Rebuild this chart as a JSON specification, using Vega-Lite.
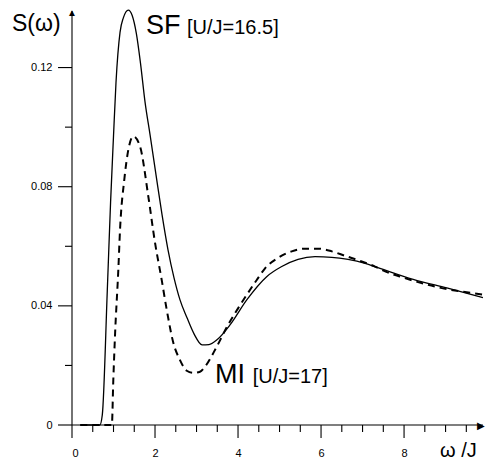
{
  "$schema": "https://vega.github.io/schema/vega-lite/v6.json",
  "width": 413,
  "height": 417,
  "autosize": {"type": "none"},
  "padding": {"left": 72, "top": 8, "right": 0, "bottom": 35},
  "background": "white",
  "config": {
    "view": {"stroke": null},
    "axis": {"grid": false}
  },
  "datasets": {
    "sf": [
      {"w": 0.2, "s": 0},
      {"w": 0.67, "s": 0},
      {"w": 0.73, "s": 0.0034},
      {"w": 0.85, "s": 0.045},
      {"w": 0.93, "s": 0.075},
      {"w": 1.0, "s": 0.097},
      {"w": 1.06, "s": 0.115},
      {"w": 1.157, "s": 0.1318},
      {"w": 1.237, "s": 0.1367},
      {"w": 1.357, "s": 0.1393},
      {"w": 1.45, "s": 0.1375},
      {"w": 1.55, "s": 0.1315},
      {"w": 1.65, "s": 0.1215},
      {"w": 1.759, "s": 0.1085},
      {"w": 1.88, "s": 0.0975},
      {"w": 2.024, "s": 0.084},
      {"w": 2.169, "s": 0.0706},
      {"w": 2.313, "s": 0.0588},
      {"w": 2.458, "s": 0.0494},
      {"w": 2.602, "s": 0.042},
      {"w": 2.771, "s": 0.036},
      {"w": 2.94, "s": 0.0306},
      {"w": 3.133, "s": 0.0269},
      {"w": 3.3, "s": 0.027},
      {"w": 3.5, "s": 0.0287},
      {"w": 3.807, "s": 0.0336},
      {"w": 4.21, "s": 0.042},
      {"w": 4.69, "s": 0.0498},
      {"w": 5.053, "s": 0.0532},
      {"w": 5.446, "s": 0.0556},
      {"w": 5.855, "s": 0.0565},
      {"w": 6.258, "s": 0.0563},
      {"w": 6.65, "s": 0.0556},
      {"w": 7.06, "s": 0.0543},
      {"w": 7.42, "s": 0.0526},
      {"w": 8.22, "s": 0.0489},
      {"w": 9.03, "s": 0.046},
      {"w": 9.9, "s": 0.0428}
    ],
    "mi": [
      {"w": 0.2, "s": 0},
      {"w": 0.96, "s": 0},
      {"w": 0.995, "s": 0.015},
      {"w": 1.036, "s": 0.03},
      {"w": 1.116, "s": 0.0521},
      {"w": 1.157, "s": 0.0655},
      {"w": 1.26, "s": 0.0824},
      {"w": 1.357, "s": 0.0924},
      {"w": 1.477, "s": 0.0969},
      {"w": 1.639, "s": 0.0935},
      {"w": 1.839, "s": 0.0767},
      {"w": 2.0, "s": 0.0612},
      {"w": 2.161, "s": 0.0487},
      {"w": 2.282, "s": 0.0387},
      {"w": 2.441, "s": 0.0276},
      {"w": 2.602, "s": 0.0218},
      {"w": 2.764, "s": 0.0182},
      {"w": 2.916, "s": 0.0175},
      {"w": 3.084, "s": 0.0179},
      {"w": 3.2, "s": 0.0195},
      {"w": 3.487, "s": 0.0263},
      {"w": 3.759, "s": 0.0336},
      {"w": 4.048, "s": 0.0402},
      {"w": 4.451, "s": 0.0487},
      {"w": 4.651, "s": 0.0526},
      {"w": 4.964, "s": 0.0561},
      {"w": 5.294, "s": 0.0583},
      {"w": 5.614, "s": 0.0592},
      {"w": 5.928, "s": 0.0592},
      {"w": 6.258, "s": 0.0583},
      {"w": 6.578, "s": 0.0568},
      {"w": 6.98, "s": 0.0549},
      {"w": 7.3, "s": 0.0532},
      {"w": 7.49, "s": 0.0519},
      {"w": 8.0, "s": 0.0494},
      {"w": 8.8, "s": 0.0463},
      {"w": 9.9, "s": 0.0438}
    ],
    "axes": [
      {"id": "xaxis", "w": 0, "s": 0}, {"id": "xaxis", "w": 9.9, "s": 0},
      {"id": "yaxis", "w": 0, "s": 0}, {"id": "yaxis", "w": 0, "s": 0.139},
      {"id": "xt0", "w": 0, "s": 0}, {"id": "xt0", "w": 0, "s": -0.00437},
      {"id": "xt2", "w": 2, "s": 0}, {"id": "xt2", "w": 2, "s": -0.00437},
      {"id": "xt4", "w": 4, "s": 0}, {"id": "xt4", "w": 4, "s": -0.00437},
      {"id": "xt6", "w": 6, "s": 0}, {"id": "xt6", "w": 6, "s": -0.00437},
      {"id": "xt8", "w": 8, "s": 0}, {"id": "xt8", "w": 8, "s": -0.00437},
      {"id": "xm05", "w": 0.5, "s": 0}, {"id": "xm05", "w": 0.5, "s": -0.00235},
      {"id": "xm10", "w": 1, "s": 0}, {"id": "xm10", "w": 1, "s": -0.00235},
      {"id": "xm15", "w": 1.5, "s": 0}, {"id": "xm15", "w": 1.5, "s": -0.00235},
      {"id": "xm25", "w": 2.5, "s": 0}, {"id": "xm25", "w": 2.5, "s": -0.00235},
      {"id": "xm30", "w": 3, "s": 0}, {"id": "xm30", "w": 3, "s": -0.00235},
      {"id": "xm35", "w": 3.5, "s": 0}, {"id": "xm35", "w": 3.5, "s": -0.00235},
      {"id": "xm45", "w": 4.5, "s": 0}, {"id": "xm45", "w": 4.5, "s": -0.00235},
      {"id": "xm50", "w": 5, "s": 0}, {"id": "xm50", "w": 5, "s": -0.00235},
      {"id": "xm55", "w": 5.5, "s": 0}, {"id": "xm55", "w": 5.5, "s": -0.00235},
      {"id": "xm65", "w": 6.5, "s": 0}, {"id": "xm65", "w": 6.5, "s": -0.00235},
      {"id": "xm70", "w": 7, "s": 0}, {"id": "xm70", "w": 7, "s": -0.00235},
      {"id": "xm75", "w": 7.5, "s": 0}, {"id": "xm75", "w": 7.5, "s": -0.00235},
      {"id": "xm85", "w": 8.5, "s": 0}, {"id": "xm85", "w": 8.5, "s": -0.00235},
      {"id": "xm90", "w": 9, "s": 0}, {"id": "xm90", "w": 9, "s": -0.00235},
      {"id": "xm95", "w": 9.5, "s": 0}, {"id": "xm95", "w": 9.5, "s": -0.00235},
      {"id": "yt0", "w": 0, "s": 0}, {"id": "yt0", "w": -0.337, "s": 0},
      {"id": "yt4", "w": 0, "s": 0.04}, {"id": "yt4", "w": -0.337, "s": 0.04},
      {"id": "yt8", "w": 0, "s": 0.08}, {"id": "yt8", "w": -0.337, "s": 0.08},
      {"id": "yt12", "w": 0, "s": 0.12}, {"id": "yt12", "w": -0.337, "s": 0.12},
      {"id": "ym2", "w": 0, "s": 0.02}, {"id": "ym2", "w": -0.169, "s": 0.02},
      {"id": "ym6", "w": 0, "s": 0.06}, {"id": "ym6", "w": -0.169, "s": 0.06},
      {"id": "ym10", "w": 0, "s": 0.1}, {"id": "ym10", "w": -0.169, "s": 0.1}
    ]
  },
  "layer": [
    {
      "data": {"name": "axes"},
      "mark": {"type": "line", "color": "black", "strokeWidth": 1.1},
      "encoding": {
        "x": {
          "field": "w",
          "type": "quantitative",
          "title": null,
          "scale": {"domain": [0, 9.95], "nice": false, "zero": false},
          "axis": {
            "tickCount": 5,
            "domain": false,
            "ticks": true,
            "tickOpacity": 0,
            "tickSize": 13,
            "labelFontSize": 11,
            "labelColor": "black",
            "labelPadding": 9
          }
        },
        "y": {
          "field": "s",
          "type": "quantitative",
          "title": null,
          "scale": {"domain": [0, 0.14], "nice": false, "zero": false},
          "axis": {
            "values": [0, 0.04, 0.08, 0.12],
            "format": ".2~f",
            "domain": false,
            "ticks": true,
            "tickOpacity": 0,
            "tickSize": 14,
            "labelFontSize": 11,
            "labelColor": "black",
            "labelPadding": 6
          }
        },
        "detail": {"field": "id", "type": "nominal"}
      }
    },
    {
      "data": {"name": "sf"},
      "mark": {"type": "line", "color": "black", "strokeWidth": 1.3, "interpolate": "monotone"},
      "encoding": {
        "x": {"field": "w", "type": "quantitative"},
        "y": {"field": "s", "type": "quantitative"}
      }
    },
    {
      "data": {"name": "mi"},
      "mark": {"type": "line", "color": "black", "strokeWidth": 2, "strokeDash": [7, 5], "interpolate": "monotone"},
      "encoding": {
        "x": {"field": "w", "type": "quantitative"},
        "y": {"field": "s", "type": "quantitative"}
      }
    },
    {
      "data": {"values": [{}]},
      "mark": {"type": "text", "text": "▲", "fontSize": 10, "color": "black"},
      "encoding": {"x": {"datum": 0}, "y": {"datum": 0.1383}}
    },
    {
      "data": {"values": [{}]},
      "mark": {"type": "text", "text": "▶", "fontSize": 10, "color": "black"},
      "encoding": {"x": {"datum": 9.86}, "y": {"datum": -0.0003}}
    },
    {
      "data": {"values": [{}]},
      "mark": {"type": "text", "text": "S(ω)", "fontSize": 23, "align": "left", "color": "black"},
      "encoding": {"x": {"datum": -1.446}, "y": {"datum": 0.1345}}
    },
    {
      "data": {"values": [{}]},
      "mark": {"type": "text", "text": "ω /J", "fontSize": 20, "align": "left", "color": "black"},
      "encoding": {"x": {"datum": 8.867}, "y": {"datum": -0.0086}}
    },
    {
      "data": {"values": [{}]},
      "mark": {"type": "text", "text": "SF", "fontSize": 27, "align": "left", "color": "black"},
      "encoding": {"x": {"datum": 1.783}, "y": {"datum": 0.1339}}
    },
    {
      "data": {"values": [{}]},
      "mark": {"type": "text", "text": "[U/J=16.5]", "fontSize": 20, "align": "left", "color": "black"},
      "encoding": {"x": {"datum": 2.77}, "y": {"datum": 0.1332}}
    },
    {
      "data": {"values": [{}]},
      "mark": {"type": "text", "text": "MI", "fontSize": 27, "align": "left", "color": "black"},
      "encoding": {"x": {"datum": 3.446}, "y": {"datum": 0.0169}}
    },
    {
      "data": {"values": [{}]},
      "mark": {"type": "text", "text": "[U/J=17]", "fontSize": 20, "align": "left", "color": "black"},
      "encoding": {"x": {"datum": 4.354}, "y": {"datum": 0.0162}}
    }
  ]
}
